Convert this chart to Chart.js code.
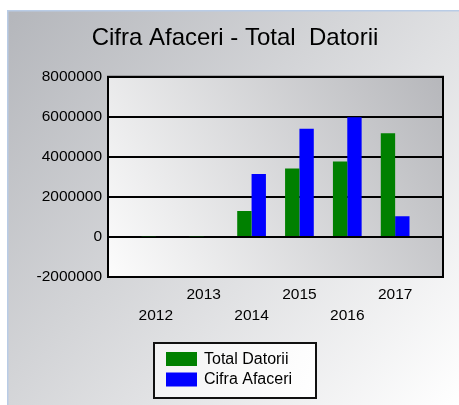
<!DOCTYPE html>
<html>
<head>
<meta charset="utf-8">
<script src="https://cdn.jsdelivr.net/npm/chart.js@4/dist/chart.umd.min.js"></script>
<style>
  html, body { margin: 0; padding: 0; background: #ffffff; }
  #chart { display: block; }
</style>
</head>
<body>
<canvas id="chart" width="459" height="405"></canvas>
<script>
// data
const years = ["2012", "2013", "2014", "2015", "2016", "2017"];
const totalDatorii = [30000, 30000, 1300000, 3420000, 3770000, 5180000];
const cifraAfaceri = [0, 0, 3150000, 5400000, 5980000, 1030000];
const yTicks = [-2000000, 0, 2000000, 4000000, 6000000, 8000000];

// empty slot on each side, like the original plot
const labels = [""].concat(years, [""]);
const pad = arr => [null].concat(arr, [null]);

const FONT = "'Liberation Sans', Arial, sans-serif";

// PANEL + PLOT BACKGROUND
const backgroundPlugin = {
  id: "panelBg",
  beforeDraw(chart) {
    const ctx = chart.ctx;
    const a = chart.chartArea;
    ctx.save();
    ctx.fillStyle = "#ffffff";
    ctx.fillRect(0, 0, chart.width, chart.height);

    let g = ctx.createLinearGradient(7, 10, 459, 405);
    g.addColorStop(0, "#b4b6bb");
    g.addColorStop(1, "#ffffff");
    ctx.fillStyle = g;
    ctx.fillRect(7, 10, chart.width - 7, chart.height - 10);

    ctx.strokeStyle = "#b9cce6";
    ctx.lineWidth = 1.5;
    ctx.beginPath();
    ctx.moveTo(7.75, chart.height);
    ctx.lineTo(7.75, 10.75);
    ctx.lineTo(chart.width, 10.75);
    ctx.stroke();

    g = ctx.createLinearGradient(a.left, a.bottom, a.right, a.top);
    g.addColorStop(0, "#fcfcfc");
    g.addColorStop(1, "#b6b7bb");
    ctx.fillStyle = g;
    ctx.fillRect(a.left, a.top, a.right - a.left, a.bottom - a.top);
    ctx.restore();
  },
  afterDraw(chart) {
    const ctx = chart.ctx;
    const a = chart.chartArea;
    ctx.save();
    // frame
    ctx.strokeStyle = "#000000";
    ctx.lineWidth = 2;
    ctx.strokeRect(a.left, a.top, a.right - a.left, a.bottom - a.top);

    // legend box
    const bx = 154, by = 343, bw = 162, bh = 55;
    const g = ctx.createLinearGradient(bx, by, bx + bw, by + bh);
    g.addColorStop(0, "#f2f2f3");
    g.addColorStop(1, "#ffffff");
    ctx.fillStyle = g;
    ctx.fillRect(bx, by, bw, bh);
    ctx.strokeStyle = "#111111";
    ctx.lineWidth = 2;
    ctx.strokeRect(bx, by, bw, bh);

    ctx.font = "16px " + FONT;
    ctx.textBaseline = "middle";
    ctx.textAlign = "left";
    chart.data.datasets.forEach((ds, i) => {
      const y = 352 + i * 20.5;
      ctx.fillStyle = ds.backgroundColor;
      ctx.fillRect(166, y, 31, 14);
      ctx.fillStyle = "#000000";
      ctx.fillText(ds.label, 204, y + 7.5);
    });
    ctx.restore();
  }
};

new Chart(document.getElementById("chart"), {
  type: "bar",
  data: {
    labels: labels,
    datasets: [{
      label: "Total Datorii",
      data: pad(totalDatorii),
      backgroundColor: "#008000"
    }, {
      label: "Cifra Afaceri",
      data: pad(cifraAfaceri),
      backgroundColor: "#0000ff"
    }]
  },
  options: {
    responsive: false,
    animation: false,
    devicePixelRatio: 1,
    barPercentage: 1,
    categoryPercentage: 0.6,
    layout: {
      padding: { left: 27, right: 16, top: 10, bottom: 0 }
    },
    plugins: {
      legend: { display: false },
      tooltip: { enabled: false },
      title: {
        display: true,
        text: "Cifra Afaceri - Total  Datorii",
        color: "#000000",
        font: { family: FONT, size: 24, weight: "normal", lineHeight: 1.2 },
        padding: { top: 14, bottom: 24 }
      }
    },
    scales: {
      x: {
        offset: false,
        grid: { display: false, drawTicks: false },
        border: { display: false },
        afterFit(scale) { scale.height = 128; },
        ticks: {
          autoSkip: false,
          maxRotation: 0,
          minRotation: 0,
          padding: 7,
          color: "#000000",
          font: { family: FONT, size: 15.5, lineHeight: "21px" },
          callback(val, i) {
            const lab = labels[i];
            if (!lab) return "";
            return i % 2 === 1 ? ["", lab] : lab;
          }
        }
      },
      y: {
        min: yTicks[0],
        max: yTicks[yTicks.length - 1],
        afterFit(scale) { scale.width = 81; },
        afterBuildTicks(scale) {
          scale.ticks = yTicks.map(v => ({ value: v }));
        },
        grid: { color: "#000000", lineWidth: 2, drawTicks: false },
        border: { display: true, color: "#000000", width: 2 },
        ticks: {
          padding: 6,
          color: "#000000",
          font: { family: FONT, size: 15.5 },
          callback: v => String(v)
        }
      }
    }
  },
  plugins: [backgroundPlugin]
});
</script>
</body>
</html>
